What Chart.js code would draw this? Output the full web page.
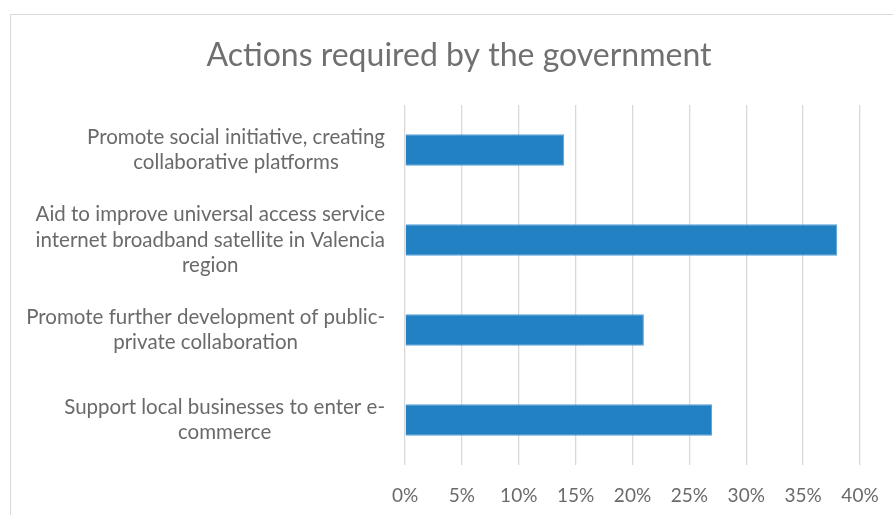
<!DOCTYPE html>
<html>
<head>
<meta charset="utf-8">
<script src="https://cdn.jsdelivr.net/npm/chart.js@4"></script>
<style>
  html, body { margin: 0; padding: 0; background: #fff; }
  #wrap { position: relative; width: 893px; height: 515px; overflow: hidden; }
  #frame { position: absolute; left: 10px; top: 14px; width: 900px; height: 520px; border: 1px solid #d9d9d9; box-sizing: border-box; }
  #c { position: absolute; left: 0; top: 0; }
</style>
</head>
<body>
<div id="wrap">
  <div id="frame"></div>
  <canvas id="c" width="893" height="515"></canvas>
</div>
<script>
const chartTitle = 'Actions required by the government';
const categories = [
  ['Promote social initiative, creating', 'collaborative platforms'],
  ['Aid to improve universal access service', 'internet broadband satellite in Valencia', 'region'],
  ['Promote further development of public-', 'private collaboration'],
  ['Support local businesses to enter e-', 'commerce']
];
const shares = [14, 38, 21, 27];
const axisMax = 40;
const axisStep = 5;

const FONT = 'Lato, "Open Sans", sans-serif';
const TEXT_GREY = '#6a6a6a';

// Title centred over the whole chart frame (which runs past the right edge of the window)
const frameTitle = {
  id: 'frameTitle',
  afterDraw(chart) {
    const ctx = chart.ctx;
    ctx.save();
    ctx.font = '32px ' + FONT;
    ctx.fillStyle = '#707070';
    ctx.textAlign = 'center';
    ctx.textBaseline = 'alphabetic';
    ctx.fillText(chartTitle, 459, 66);
    ctx.restore();
  }
};

// Category labels: each block right-aligned beside the axis, its lines centred within the block
const categoryLabels = {
  id: 'categoryLabels',
  afterDraw(chart) {
    const ctx = chart.ctx;
    const y = chart.scales.y;
    const right = chart.chartArea.left - 20;
    const lineH = 25.5;
    ctx.save();
    ctx.font = '20.5px ' + FONT;
    ctx.fillStyle = TEXT_GREY;
    ctx.textAlign = 'center';
    ctx.textBaseline = 'middle';
    categories.forEach((lines, i) => {
      const widest = Math.max(...lines.map(l => ctx.measureText(l).width));
      const cx = right - widest / 2;
      const cy = y.getPixelForValue(i);
      const top = cy - (lines.length - 1) * lineH / 2;
      lines.forEach((l, k) => ctx.fillText(l, cx, top + k * lineH));
    });
    ctx.restore();
  }
};

new Chart(document.getElementById('c'), {
  type: 'bar',
  data: {
    labels: categories,
    datasets: [{
      data: shares,
      backgroundColor: '#2281c2',
      borderColor: '#5b9fd4',
      borderWidth: 1,
      barPercentage: 0.35,
      categoryPercentage: 1
    }]
  },
  options: {
    indexAxis: 'y',
    responsive: false,
    animation: false,
    layout: { padding: { left: 0, right: 33, top: 105, bottom: 0 } },
    plugins: {
      legend: { display: false },
      tooltip: { enabled: false },
      title: { display: false }
    },
    scales: {
      x: {
        min: 0,
        max: axisMax,
        ticks: {
          stepSize: axisStep,
          color: TEXT_GREY,
          font: { family: FONT, size: 19 },
          padding: 19,
          callback: v => v + '%'
        },
        grid: { color: '#d9d9d9', lineWidth: 1.3, drawTicks: false },
        border: { display: false },
        afterFit(scale) {
          scale.height = 50;
          scale.paddingLeft = 0;
          scale.paddingRight = 0;
        }
      },
      y: {
        ticks: { display: false },
        grid: { display: false },
        border: { display: false },
        afterFit(scale) { scale.width = 405; }
      }
    }
  },
  plugins: [categoryLabels, frameTitle]
});
</script>
</body>
</html>
